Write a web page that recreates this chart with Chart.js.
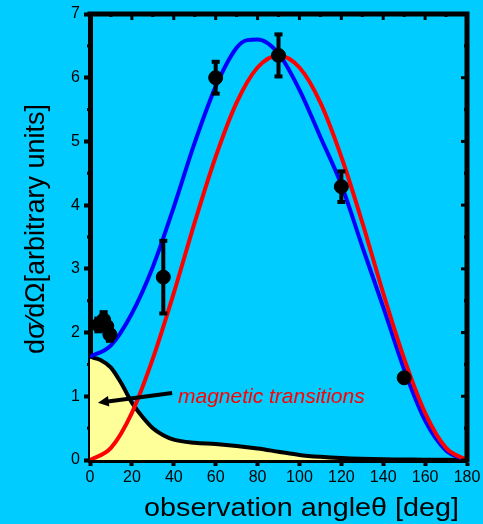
<!DOCTYPE html>
<html>
<head>
<meta charset="utf-8">
<script src="https://cdn.jsdelivr.net/npm/chart.js@4.4.1/dist/chart.umd.min.js"></script>
<style>
  html, body { margin: 0; padding: 0; background: #00CCFF; }
  canvas { display: block; }
</style>
</head>
<body>
<canvas id="c" width="483" height="524"></canvas>
<script>
// ---- data ----
const blueAngles = [0, 10, 20, 30, 40, 50, 60, 70, 75, 80, 90, 100, 110, 120, 130, 140, 150, 160, 170, 180];
const blueValues = [1.62, 1.8, 2.3, 3.03, 3.97, 4.98, 5.86, 6.47, 6.59, 6.6, 6.38, 5.81, 5.07, 4.32, 3.35, 2.4, 1.42, 0.62, 0.15, 0];

const redAngles = [0, 10, 20, 30, 40, 50, 60, 70, 80, 90, 100, 110, 120, 130, 140, 150, 160, 170, 180];
const redValues = [0, 0.19, 0.74, 1.59, 2.62, 3.73, 4.76, 5.61, 6.16, 6.35, 6.16, 5.61, 4.76, 3.73, 2.62, 1.59, 0.74, 0.19, 0];

const magAngles = [0, 5, 10, 15, 20, 25, 30, 35, 40, 50, 60, 70, 80, 90, 100, 110, 120, 140, 160, 180];
const magValues = [1.62, 1.57, 1.45, 1.2, 0.9, 0.68, 0.5, 0.39, 0.32, 0.27, 0.25, 0.22, 0.18, 0.13, 0.08, 0.05, 0.03, 0.01, 0.005, 0];

const pointAngles = [4, 6.5, 8, 9.5, 35, 60, 90, 120, 150];
const pointValues = [2.12, 2.2, 2.1, 1.97, 2.87, 6.0, 6.35, 4.29, 1.29];
const pointErrors = [0.1, 0.12, 0.1, 0.1, 0.57, 0.25, 0.33, 0.24, 0];

const xTicks = [0, 20, 40, 60, 80, 100, 120, 140, 160, 180];
const yTicks = [0, 1, 2, 3, 4, 5, 6, 7];

const arrowFrom = [39.2, 1.05];
const arrowTo = [3.8, 0.9];
const annotationText = 'magnetic transitions';
const annotationAt = [42, 0.89];

const xTitle = 'observation angle\u03b8 [deg]';
const yTitle = 'd\u03c3\u2044d\u03a9[arbitrary units]';

const FONT = '"Liberation Sans", Arial, sans-serif';
const toXY = (xs, ys) => xs.map((x, i) => ({ x: x, y: ys[i] }));

// ---- plugins ----
const framePlugin = {
  id: 'frame',
  afterDatasetsDraw(chart) {
    const ctx = chart.ctx, a = chart.chartArea;
    const xs = chart.scales.x, ys = chart.scales.y;
    ctx.save();
    ctx.strokeStyle = '#000';
    ctx.fillStyle = '#000';
    // minor ticks outside (left / bottom) and ticks inside (top / right)
    ctx.lineWidth = 3;
    for (let v = 0; v <= 7; v += 0.5) {
      const y = ys.getPixelForValue(v);
      const major = Number.isInteger(v);
      if (!major) {
        ctx.beginPath(); ctx.moveTo(a.left - 3, y); ctx.lineTo(a.left, y); ctx.stroke();
      }
      ctx.beginPath(); ctx.moveTo(a.right, y); ctx.lineTo(a.right - (major ? 6 : 3), y); ctx.stroke();
    }
    for (let v = 0; v <= 180; v += 10) {
      const x = xs.getPixelForValue(v);
      const major = v % 20 === 0;
      if (!major) {
        ctx.beginPath(); ctx.moveTo(x, a.bottom); ctx.lineTo(x, a.bottom + 3); ctx.stroke();
      }
      ctx.beginPath(); ctx.moveTo(x, a.top); ctx.lineTo(x, a.top + (major ? 6 : 3)); ctx.stroke();
    }
    // top and right border
    ctx.lineWidth = 5;
    ctx.beginPath();
    ctx.moveTo(a.left - 2.5, a.top);
    ctx.lineTo(a.right, a.top);
    ctx.lineTo(a.right, a.bottom + 2.5);
    ctx.stroke();

    // error bars
    ctx.lineWidth = 4;
    pointAngles.forEach((px, i) => {
      const e = pointErrors[i];
      if (!e) return;
      const x = xs.getPixelForValue(px);
      const y1 = ys.getPixelForValue(pointValues[i] - e);
      const y2 = ys.getPixelForValue(pointValues[i] + e);
      ctx.beginPath(); ctx.moveTo(x, y1); ctx.lineTo(x, y2); ctx.stroke();
      ctx.beginPath(); ctx.moveTo(x - 4, y1); ctx.lineTo(x + 4, y1); ctx.stroke();
      ctx.beginPath(); ctx.moveTo(x - 4, y2); ctx.lineTo(x + 4, y2); ctx.stroke();
    });

    // annotation arrow
    const ax1 = xs.getPixelForValue(arrowFrom[0]), ay1 = ys.getPixelForValue(arrowFrom[1]);
    const ax2 = xs.getPixelForValue(arrowTo[0]), ay2 = ys.getPixelForValue(arrowTo[1]);
    ctx.lineWidth = 4;
    ctx.beginPath(); ctx.moveTo(ax1, ay1); ctx.lineTo(ax2 + 8, ay2 - 1); ctx.stroke();
    const ang = Math.atan2(ay2 - ay1, ax2 - ax1);
    ctx.beginPath();
    ctx.moveTo(ax2, ay2);
    ctx.lineTo(ax2 - 12 * Math.cos(ang - 0.45), ay2 - 12 * Math.sin(ang - 0.45));
    ctx.lineTo(ax2 - 12 * Math.cos(ang + 0.45), ay2 - 12 * Math.sin(ang + 0.45));
    ctx.closePath(); ctx.fill();

    // annotation text
    ctx.fillStyle = '#FF0000';
    ctx.font = 'italic 21px ' + FONT;
    ctx.textAlign = 'left';
    ctx.textBaseline = 'alphabetic';
    ctx.fillText(annotationText, xs.getPixelForValue(annotationAt[0]), ys.getPixelForValue(annotationAt[1]));

    // x axis title (slightly wide lettering as in the reference)
    ctx.fillStyle = '#000';
    ctx.save();
    ctx.font = '25px ' + FONT;
    ctx.textAlign = 'right';
    ctx.translate(a.right - 8, 516);
    ctx.scale(1.15, 1);
    ctx.fillText(xTitle, 0, 0);
    ctx.restore();

    // y axis title
    ctx.translate(44, (a.top + a.bottom) / 2 - 8);
    ctx.rotate(-Math.PI / 2);
    ctx.textAlign = 'center';
    ctx.font = '27px ' + FONT;
    ctx.fillText(yTitle, 0, 0);
    ctx.restore();
  }
};

const chart = new Chart(document.getElementById('c'), {
  type: 'line',
  data: {
    datasets: [
      { label: 'data', type: 'scatter', data: toXY(pointAngles, pointValues),
        backgroundColor: '#000', borderColor: '#000', pointRadius: 7, pointHoverRadius: 7, order: 0 },
      { label: 'red', data: toXY(redAngles, redValues), borderColor: '#FF0000', borderWidth: 4,
        pointRadius: 0, cubicInterpolationMode: 'monotone', fill: false, order: 1 },
      { label: 'blue', data: toXY(blueAngles, blueValues), borderColor: '#0000FF', borderWidth: 4,
        pointRadius: 0, cubicInterpolationMode: 'monotone', fill: false, order: 2 },
      { label: 'magnetic', data: toXY(magAngles, magValues), borderColor: '#000', borderWidth: 4,
        backgroundColor: '#FFFF99', pointRadius: 0, cubicInterpolationMode: 'monotone', fill: 'origin', order: 3 }
    ]
  },
  options: {
    responsive: false,
    animation: false,
    layout: { padding: { top: 14, right: 16, left: 0, bottom: 0 } },
    plugins: { legend: { display: false }, tooltip: { enabled: false } },
    scales: {
      x: {
        type: 'linear', min: 0, max: 180,
        afterBuildTicks: s => { s.ticks = xTicks.map(v => ({ value: v })); },
        afterFit: s => { s.height = 64; },
        ticks: { color: '#000', font: { size: 16, family: FONT }, padding: 2, maxRotation: 0, autoSkip: false },
        grid: { display: true, drawOnChartArea: false, drawTicks: true, tickLength: 6, tickWidth: 4, color: '#000' },
        border: { display: true, color: '#000', width: 5 }
      },
      y: {
        type: 'linear', min: 0, max: 7,
        afterBuildTicks: s => { s.ticks = yTicks.map(v => ({ value: v })); },
        afterFit: s => { s.width = 90; },
        ticks: { color: '#000', font: { size: 16, family: FONT }, padding: 4 },
        grid: { display: true, drawOnChartArea: false, drawTicks: true, tickLength: 6, tickWidth: 4, color: '#000' },
        border: { display: true, color: '#000', width: 5 }
      }
    }
  },
  plugins: [framePlugin]
});
</script>
</body>
</html>
